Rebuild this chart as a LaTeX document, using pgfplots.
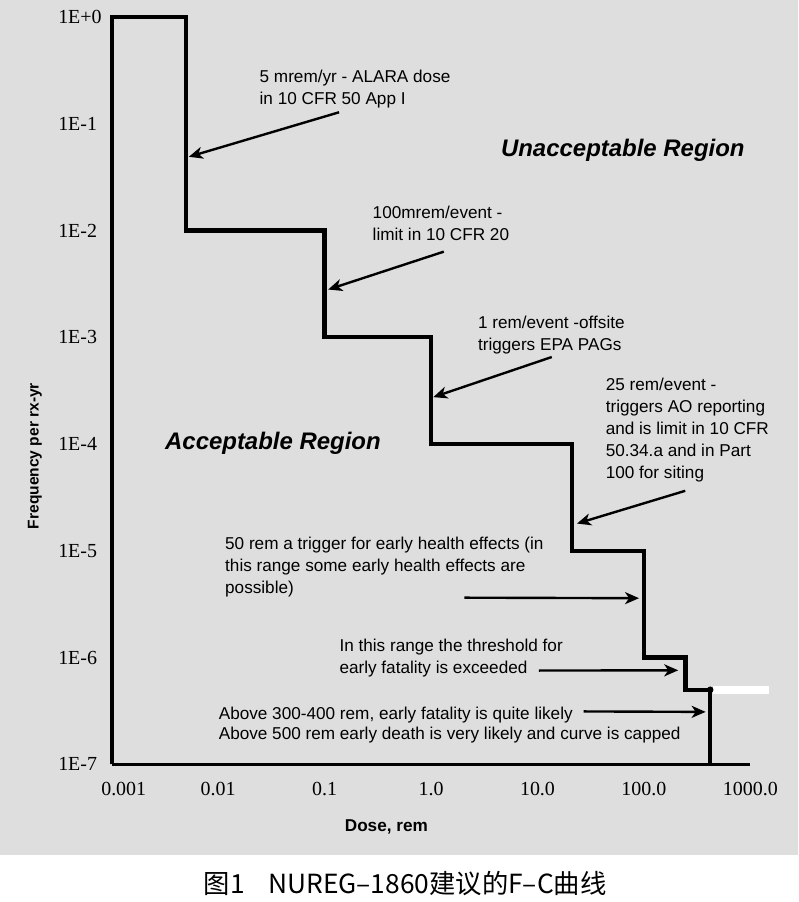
\documentclass[border=0pt]{standalone}
\usepackage{fontspec}
\setmainfont{Liberation Sans}
\newfontfamily\timesfont{Liberation Serif}
\newfontfamily\cjk{Noto Sans CJK SC}
\usepackage{pgfplots}
\pgfplotsset{compat=1.18}
\usetikzlibrary{arrows.meta}
\definecolor{bg}{RGB}{222,222,222}

\newcommand\ann{\fontsize{8.6}{11}\selectfont}
\tikzset{note/.style={anchor=west, align=left, inner sep=0pt, font=\ann},
         pointer/.style={line width=1.2pt, -{Stealth[length=7pt,width=6pt,inset=2pt]}}}

\begin{document}
\begin{tikzpicture}[x=0.5pt,y=0.5pt]
\fill[white] (0,0) rectangle (800,902);
\fill[bg] (0,45) rectangle (800,902);
\coordinate (O) at (112,136);
\node[font=\cjk\fontsize{13.2}{15}\selectfont] at (406,17) {图1\hspace{0.9em}NUREG–1860建议的F–C曲线};
\begin{axis}[
  at={(O)}, anchor=south west,
  scale only axis, width=320pt, height=374.5pt,
  xmode=log, ymode=log,
  xmin=0.001, xmax=1000, ymin=1e-7, ymax=1,
  axis x line*=bottom, axis y line*=left,
  axis line style={line width=1.6pt},
  tick style={draw=none},
  xtick={0.001,0.01,0.1,1,10,100,1000},
  xticklabels={\hspace{12pt}0.001,0.01,0.1,1.0,10.0,100.0,1000.0},
  ytick={1e-7,1e-6,1e-5,1e-4,1e-3,1e-2,1e-1,1},
  yticklabels={1E-7,1E-6,1E-5,1E-4,1E-3,1E-2,1E-1,1E+0},
  xticklabel style={font=\timesfont\fontsize{10}{12}\selectfont, anchor=north, inner sep=0pt, yshift=-9pt},
  yticklabel style={font=\timesfont\fontsize{10}{12}\selectfont, anchor=west, inner sep=0pt, xshift=-27pt},
  xlabel={\bfseries Dose, rem},
  xlabel style={at={(axis description cs:0.43,-0.0841)}, anchor=center, font=\fontsize{8.6}{10}\selectfont},
  ylabel={\bfseries Frequency per rx-yr},
  ylabel style={at={(axis description cs:-0.1203,0.4125)}, anchor=center, font=\fontsize{7.8}{9}\selectfont},
  clip=false,
]
% frequency-consequence step curve
\addplot[black, line width=2.2pt, line join=miter] coordinates {
  (0.001,1e-7) (0.001,1) (0.005,1) (0.005,1e-2) (0.1,1e-2) (0.1,1e-3)
  (1,1e-3) (1,1e-4) (21,1e-4) (21,1e-5) (100,1e-5) (100,1e-6)
  (245,1e-6) (245,5e-7) (420,5e-7) (420,1e-7)
};
\addplot[white, line width=4pt] coordinates {(450,5e-7) (1500,5e-7)};
\addplot[black, only marks, mark=*, mark size=1.4pt] coordinates {(420,5e-7)};

\node[anchor=west, inner sep=0pt, font=\fontsize{12}{14}\selectfont\bfseries\itshape]
  at (rel axis cs:0.609,0.822) {Unacceptable Region};
\node[anchor=west, inner sep=0pt, font=\fontsize{12}{14}\selectfont\bfseries\itshape]
  at (rel axis cs:0.083,0.430) {Acceptable Region};

\node[note] at (rel axis cs:0.231,0.904) {5 mrem/yr - ALARA dose\\in 10 CFR 50 App I};
\draw[pointer] (rel axis cs:0.356,0.8725) -- (axis cs:0.0053,0.049);

\node[note] at (rel axis cs:0.408,0.724) {100mrem/event -\\limit in 10 CFR 20};
\draw[pointer] (rel axis cs:0.520,0.686) -- (axis cs:0.108,0.0028);

\node[note] at (rel axis cs:0.573,0.575) {1 rem/event -offsite\\triggers EPA PAGs};
\draw[pointer] (rel axis cs:0.689,0.545) -- (axis cs:1.05,2.75e-4);

\node[note] at (rel axis cs:0.773,0.447) {25 rem/event -\\triggers AO reporting\\and is limit in 10 CFR\\50.34.a and in Part\\100 for siting};
\draw[pointer] (rel axis cs:0.898,0.366) -- (axis cs:23.5,1.8e-5);

\node[note] at (rel axis cs:0.177,0.264) {50 rem a trigger for early health effects (in\\this range some early health effects are\\possible)};
\draw[pointer] (rel axis cs:0.552,0.223) -- (axis cs:90,3.6e-6);

\node[note] at (rel axis cs:0.356,0.142) {In this range the threshold for\\early fatality is exceeded};
\draw[pointer] (rel axis cs:0.669,0.1255) -- (axis cs:210,7.6e-7);

\node[note, font=\fontsize{8.6}{10}\selectfont] at (rel axis cs:0.167,0.053) {Above 300-400 rem, early fatality is quite likely\\Above 500 rem early death is very likely and curve is capped};
\draw[pointer] (rel axis cs:0.739,0.0708) -- (axis cs:380,3.1e-7);
\end{axis}
\end{tikzpicture}
\end{document}
